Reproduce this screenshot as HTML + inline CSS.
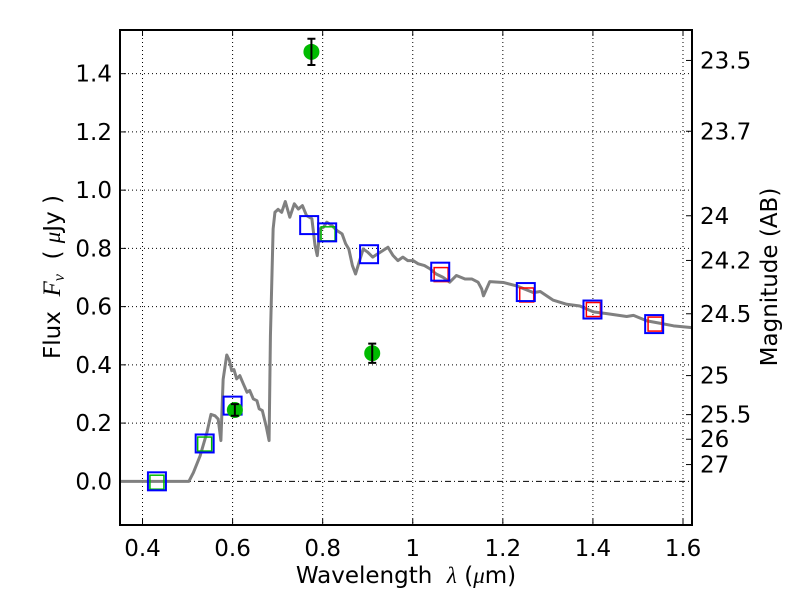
<!DOCTYPE html>
<html><head><meta charset="utf-8"><style>
body{margin:0;background:#fff}
svg{display:block;font-family:"DejaVu Sans","Liberation Sans",sans-serif}
svg text{white-space:pre}
</style></head><body>
<svg id="chart" width="800" height="600" viewBox="0 0 800 600"></svg>
<script>
const xTicks=[0.4,0.6,0.8,1.0,1.2,1.4,1.6];
const xTickLabels=["0.4","0.6","0.8","1","1.2","1.4","1.6"];
const yTicks=[0.0,0.2,0.4,0.6,0.8,1.0,1.2,1.4];
const yTickLabels=["0.0","0.2","0.4","0.6","0.8","1.0","1.2","1.4"];
const magTicks=[23.5,23.7,24,24.2,24.5,25,25.5,26,27];
const magLabels=["23.5","23.7","24","24.2","24.5","25","25.5","26","27"];
const specLam=[0.35,0.503,0.513,0.528,0.543,0.552,0.561,0.568,0.574,0.579,0.587,0.593,0.598,0.603,0.609,0.616,0.624,0.632,0.638,0.646,0.654,0.659,0.666,0.675,0.681,0.684,0.690,0.694,0.701,0.709,0.717,0.727,0.737,0.746,0.755,0.764,0.776,0.783,0.788,0.794,0.802,0.809,0.820,0.832,0.843,0.851,0.858,0.866,0.873,0.881,0.890,0.900,0.911,0.922,0.933,0.945,0.956,0.967,0.978,0.989,1.001,1.012,1.026,1.038,1.052,1.067,1.082,1.097,1.116,1.131,1.145,1.153,1.157,1.171,1.201,1.231,1.268,1.283,1.312,1.342,1.371,1.401,1.431,1.475,1.490,1.520,1.549,1.579,1.62];
const specFlux=[0,0,0.03,0.088,0.168,0.23,0.225,0.214,0.14,0.35,0.434,0.415,0.38,0.384,0.352,0.363,0.334,0.306,0.312,0.283,0.277,0.249,0.243,0.186,0.14,0.5,0.867,0.924,0.934,0.924,0.961,0.907,0.953,0.935,0.947,0.913,0.902,0.81,0.775,0.867,0.873,0.89,0.879,0.861,0.85,0.816,0.798,0.741,0.712,0.753,0.798,0.787,0.77,0.781,0.792,0.804,0.776,0.758,0.77,0.758,0.758,0.747,0.741,0.73,0.712,0.701,0.684,0.707,0.695,0.695,0.684,0.661,0.637,0.686,0.683,0.671,0.648,0.652,0.622,0.608,0.602,0.582,0.576,0.566,0.57,0.551,0.543,0.534,0.528];
const boxLam=[0.432,0.538,0.600,0.770,0.810,0.903,1.061,1.251,1.399,1.536];
const boxFlux=[0.0,0.13,0.26,0.88,0.855,0.78,0.72,0.65,0.59,0.54];
const innerLam=[0.432,0.538,0.812,1.063,1.253,1.401,1.538];
const innerFlux=[-0.003,0.128,0.85,0.71,0.64,0.59,0.54];
const innerColor=["#00bb00","#00bb00","#00bb00","red","red","red","red"];
const dotLam=[0.605,0.775,0.910];
const dotFlux=[0.245,1.475,0.44];
const dotErr=[0.02,0.045,0.033];

const L=120,R=692,T=30,B=525,X0=0.35,X1=1.62,Y0=-0.15,Y1=1.55;
const sx=v=>L+(v-X0)/(X1-X0)*(R-L);
const sy=v=>B-(v-Y0)/(Y1-Y0)*(B-T);
const NS="http://www.w3.org/2000/svg";
const svg=document.getElementById('chart');
function mk(tag,attrs,parent){const e=document.createElementNS(NS,tag);for(const k in attrs)e.setAttribute(k,attrs[k]);(parent||svg).appendChild(e);return e;}
const FS=23;

xTicks.forEach((t,i)=>{
 const g=mk('line',{x1:sx(t),x2:sx(t),y1:T,y2:B,stroke:'#000','stroke-width':1,'stroke-dasharray':'1,3'});
 
 
 mk('line',{x1:sx(t),x2:sx(t),y1:B,y2:B-6,stroke:'#000'});
 mk('line',{x1:sx(t),x2:sx(t),y1:T,y2:T+6,stroke:'#000'});
 const lb=mk('text',{x:sx(t),y:B+31,'font-size':FS,'text-anchor':'middle'});
 lb.textContent=xTickLabels[i];
 
 
});
yTicks.forEach((t,i)=>{
 const g=mk('line',{x1:L,x2:R,y1:sy(t),y2:sy(t),stroke:'#000','stroke-width':1,'stroke-dasharray':t===0?'6,3,1,3':'1,3'});
 
 
 mk('line',{x1:L,x2:L+6,y1:sy(t),y2:sy(t),stroke:'#000'});
 const lb=mk('text',{x:L-8,y:sy(t)+8,'font-size':FS,'text-anchor':'end'});
 lb.textContent=yTickLabels[i];
 
 
});
magTicks.forEach((m,i)=>{
 const f=Math.pow(10,(23.9-m)/2.5);
 mk('line',{x1:R,x2:R-6,y1:sy(f),y2:sy(f),stroke:'#000'});
 const lb=mk('text',{x:R+8,y:sy(f)+8,'font-size':FS});
 lb.textContent=magLabels[i];
 
 
});

const clip=mk('clipPath',{id:'pc'});mk('rect',{x:L,y:T,width:R-L,height:B-T},clip);
const sp=mk('polyline',{points:specLam.map((l,i)=>sx(l)+','+sy(specFlux[i])).join(' '),fill:'none',stroke:'#808080','stroke-width':3,'stroke-linejoin':'round','clip-path':'url(#pc)'});



innerLam.forEach((l,i)=>{
 const r=mk('rect',{x:sx(l)-7,y:sy(innerFlux[i])-7,width:14,height:14,fill:'none',stroke:innerColor[i],'stroke-width':1.5});
 
 
});
boxLam.forEach((l,i)=>{
 const r=mk('rect',{x:sx(l)-9,y:sy(boxFlux[i])-9,width:18,height:18,fill:'none',stroke:'#0000ff','stroke-width':2});
 
 
});
dotLam.forEach((l,i)=>{
 const c=mk('circle',{cx:sx(l),cy:sy(dotFlux[i]),r:8,fill:'#00bb00'});
 
 
 const x=sx(l),a=sy(dotFlux[i]+dotErr[i]),b=sy(dotFlux[i]-dotErr[i]);
 const e=mk('path',{d:`M${x},${a}V${b}M${x-4},${a}H${x+4}M${x-4},${b}H${x+4}`,stroke:'#000','stroke-width':2,fill:'none'});
 
 
});

const fr=mk('rect',{x:L,y:T,width:R-L,height:B-T,fill:'none',stroke:'#000','stroke-width':2});



const xl=mk('text',{x:406,y:583,'font-size':FS,'text-anchor':'middle'});
xl.innerHTML='Wavelength  <tspan font-style="italic" font-family="Liberation Serif,serif">λ</tspan> (<tspan font-style="italic" font-family="Liberation Serif,serif">μ</tspan>m)';


const yl=mk('text',{x:0,y:0,'font-size':FS,'text-anchor':'middle',transform:'translate(60,277) rotate(-90)'});
yl.innerHTML='Flux  <tspan font-style="italic" font-family="Liberation Serif,serif" font-size="25">F</tspan><tspan font-style="italic" font-family="Liberation Serif,serif" font-size="16" dy="4">ν</tspan><tspan dy="-4">  ( </tspan><tspan font-style="italic" font-family="Liberation Serif,serif">μ</tspan>Jy )';


const ml=mk('text',{x:0,y:0,'font-size':FS,'text-anchor':'middle',transform:'translate(777,277) rotate(-90)'});
ml.textContent='Magnitude (AB)';


</script>
</body></html>
